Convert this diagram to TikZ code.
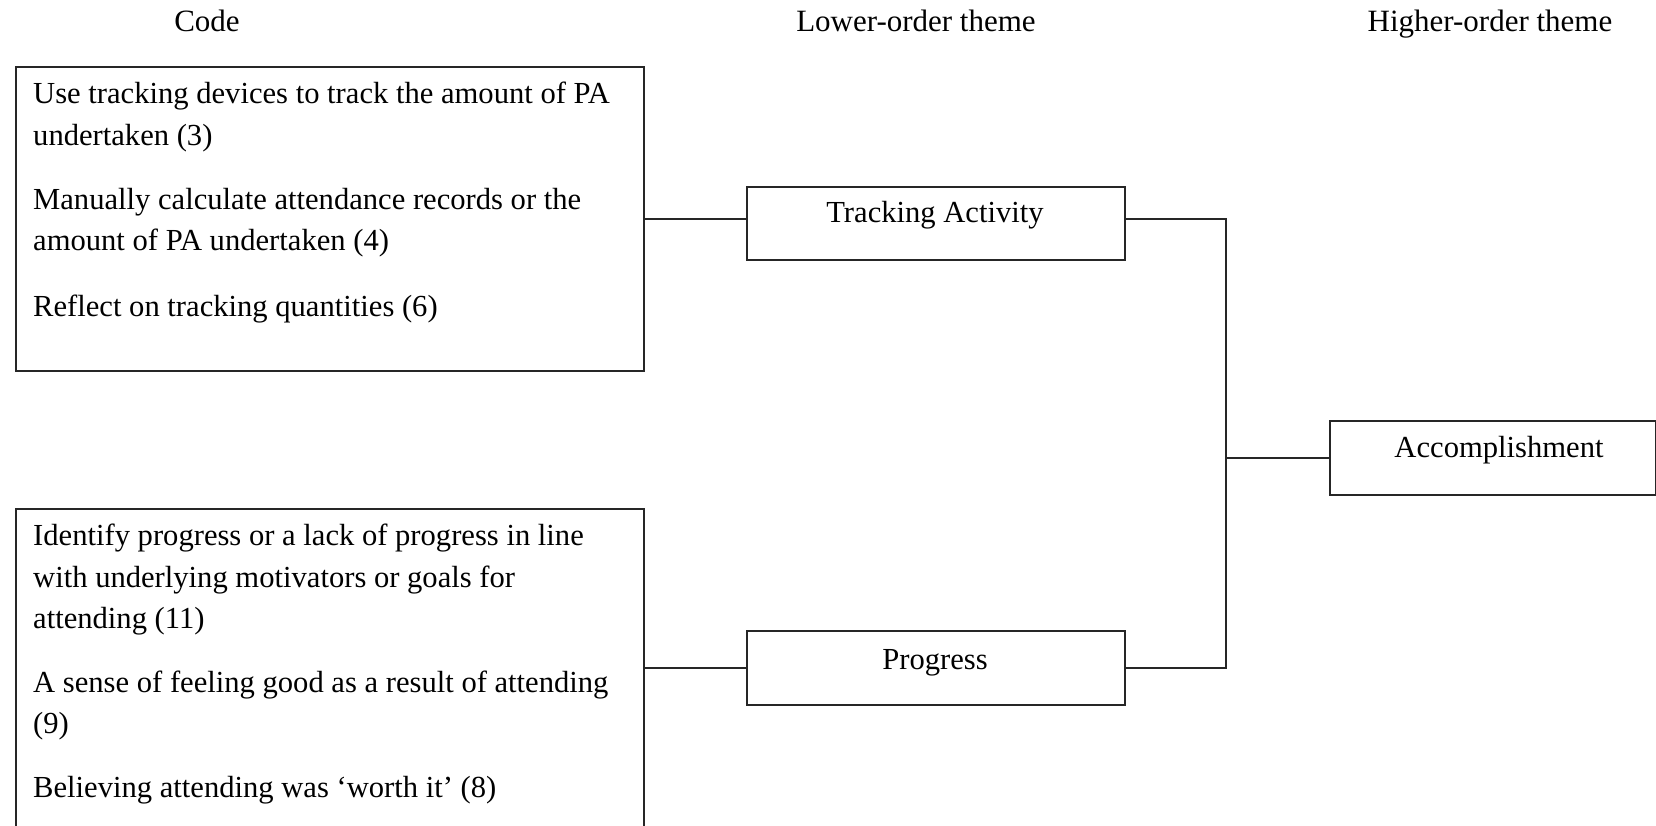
\documentclass[tikz,border=0pt]{standalone}
\usepackage{fontspec}
\setmainfont{Liberation Serif}
\begin{document}
\begin{tikzpicture}[x=1pt,y=-1pt,
  frame/.style={draw=black!85, line width=1.5pt, inner sep=0pt, anchor=north west},
  link/.style={draw=black!85, line width=1.5pt},
  txt/.style={anchor=base west, inner sep=0pt, font=\fontsize{30.6}{42}\selectfont},
  ctxt/.style={anchor=base, inner sep=0pt, font=\fontsize{30.6}{42}\selectfont},
  htxt/.style={anchor=base, inner sep=0pt, font=\fontsize{31}{42}\selectfont}]
\useasboundingbox (0,0) rectangle (1656,825);
\clip (0,0) rectangle (1656,825);
% headers
\node[htxt] (hcode) at (207,31) {Code};
\node[htxt] (hlow) at (916,31) {Lower-order theme};
\node[htxt] (hhigh) at (1490,31) {Higher-order theme};
% code boxes
\node[frame, minimum width=628pt, minimum height=304pt] (codeA) at (15,66) {};
\node[frame, minimum width=628pt, minimum height=318pt] (codeB) at (15,508) {};
\node[txt] (a1) at (33,103) {Use tracking devices to track the amount of PA};
\node[txt] (a2) at (33,145) {undertaken (3)};
\node[txt] (a3) at (33,209) {Manually calculate attendance records or the};
\node[txt] (a4) at (33,250) {amount of PA undertaken (4)};
\node[txt] (a5) at (33,316) {Reflect on tracking quantities (6)};
\node[txt] (b1) at (33,545) {Identify progress or a lack of progress in line};
\node[txt] (b2) at (33,587) {with underlying motivators or goals for};
\node[txt] (b3) at (33,628) {attending (11)};
\node[txt] (b4) at (33,692) {A sense of feeling good as a result of attending};
\node[txt] (b5) at (33,733) {(9)};
\node[txt] (b6) at (33,797) {Believing attending was ‘worth it’ (8)};
% lower-order theme boxes
\node[frame, minimum width=378pt, minimum height=73pt] (ta) at (746,186) {};
\node[ctxt] (tatext) at (935,222) {Tracking Activity};
\node[frame, minimum width=378pt, minimum height=74pt] (prog) at (746,630) {};
\node[ctxt] (progtext) at (935,669) {Progress};
% higher-order theme box
\node[frame, minimum width=326pt, minimum height=74pt] (acc) at (1329,420) {};
\node[ctxt] (acctext) at (1499,457) {Accomplishment};
% connectors
\coordinate (spine) at (1226,0);
\draw[link] (codeA.east) -- (codeA.east -| ta.west);
\draw[link] (codeB.east |- prog.west) -- (prog.west);
\draw[link] (ta.east |- codeA.east) -| (spine |- prog.east) -- (prog.east);
\draw[link] (spine |- acc.west) -- (acc.west);
\end{tikzpicture}
\end{document}
